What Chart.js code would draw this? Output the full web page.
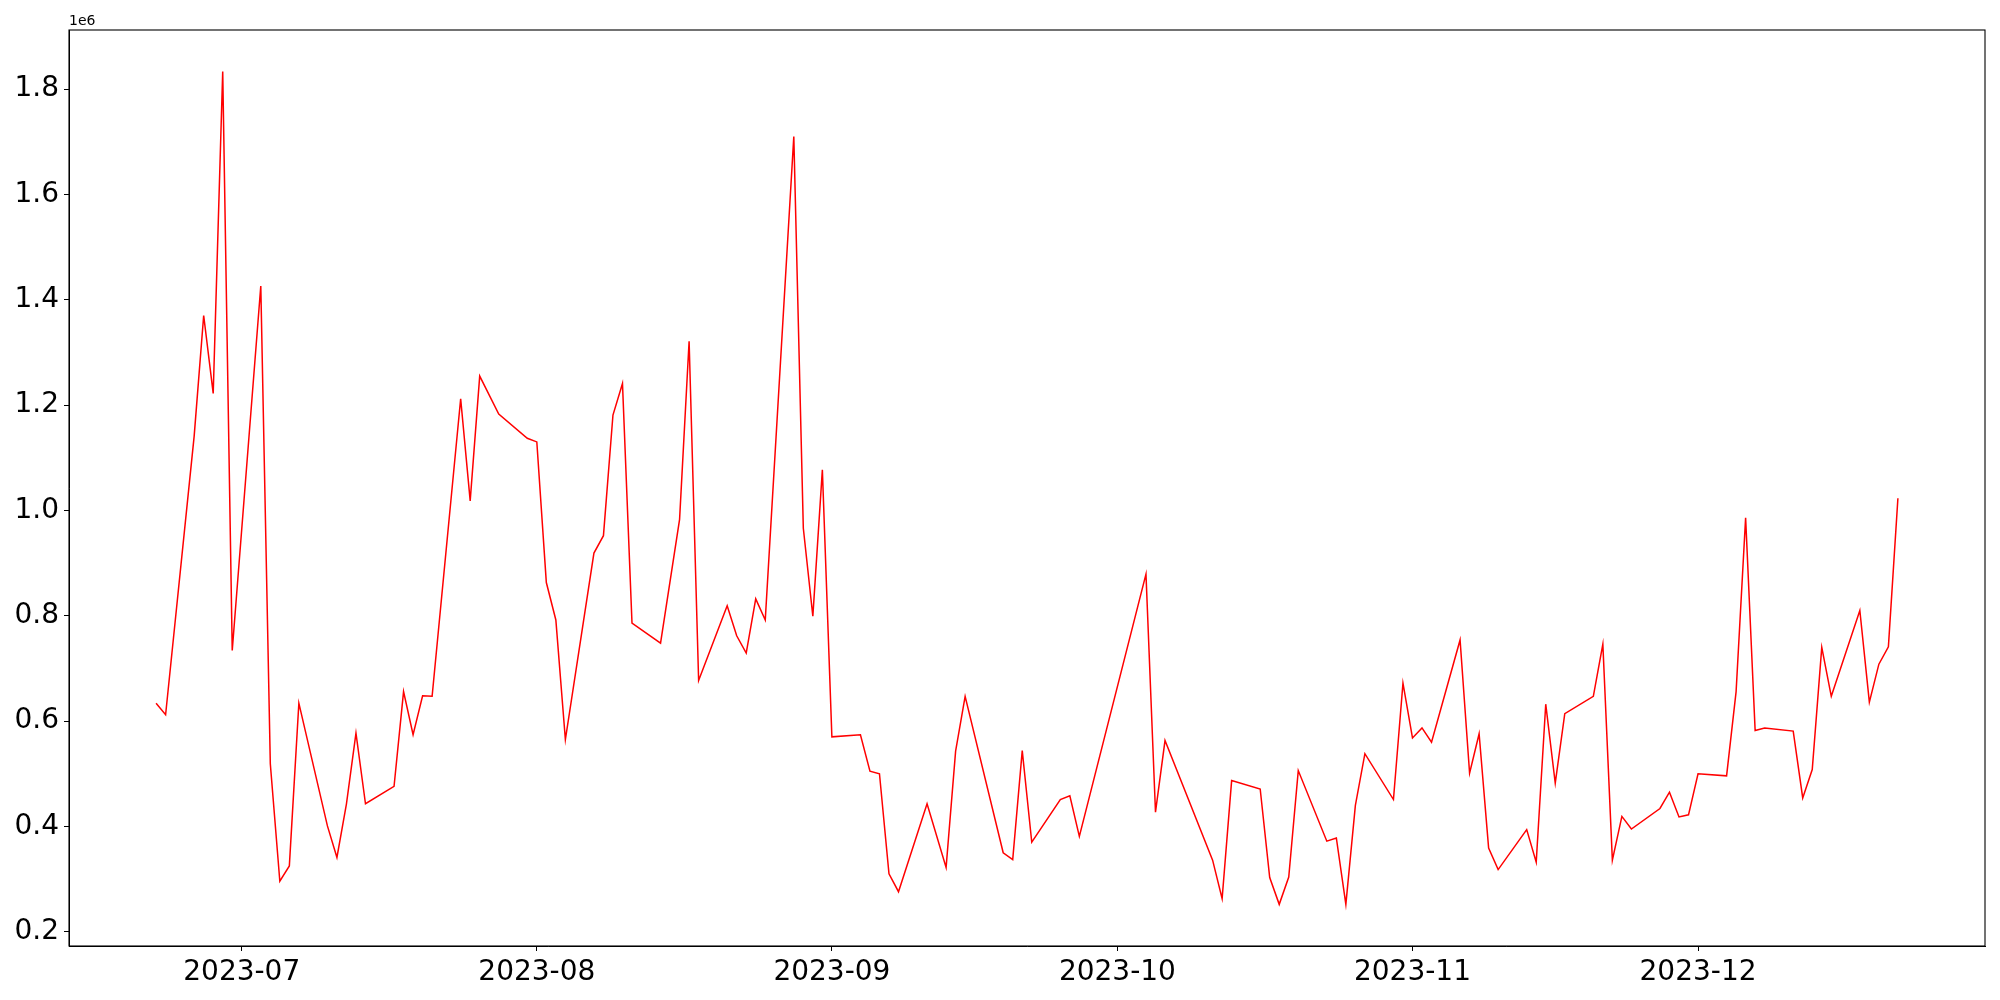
<!DOCTYPE html>
<html>
<head>
<meta charset="utf-8">
<script src="https://cdn.jsdelivr.net/npm/chart.js@4"></script>
<style>
  body { margin: 0; background: #fff; }
  #wrap { width: 2000px; height: 1000px; }
</style>
</head>
<body>
<div id="wrap"><canvas id="myChart" width="2000" height="1000"></canvas></div>
<script>
// fechas y valores (dias sueltos donde la linea sigue recta no se pueden ver)
var dates = [
  '2023-06-22','2023-06-23','2023-06-26','2023-06-27','2023-06-28','2023-06-29','2023-06-30',
  '2023-07-03','2023-07-04','2023-07-05','2023-07-06','2023-07-07',
  '2023-07-10','2023-07-11','2023-07-12','2023-07-13','2023-07-14',
  '2023-07-17','2023-07-18','2023-07-19','2023-07-20','2023-07-21',
  '2023-07-24','2023-07-25','2023-07-26','2023-07-28',
  '2023-07-31','2023-08-01','2023-08-02','2023-08-03','2023-08-04',
  '2023-08-07','2023-08-08','2023-08-09','2023-08-10','2023-08-11',
  '2023-08-14','2023-08-16','2023-08-17','2023-08-18',
  '2023-08-21','2023-08-22','2023-08-23','2023-08-24','2023-08-25',
  '2023-08-28','2023-08-29','2023-08-30','2023-08-31','2023-09-01',
  '2023-09-04','2023-09-05','2023-09-06','2023-09-07','2023-09-08',
  '2023-09-11','2023-09-13','2023-09-14','2023-09-15',
  '2023-09-19','2023-09-20','2023-09-21','2023-09-22',
  '2023-09-25','2023-09-26','2023-09-27',
  '2023-10-04','2023-10-05','2023-10-06',
  '2023-10-11','2023-10-12','2023-10-13',
  '2023-10-16','2023-10-17','2023-10-18','2023-10-19','2023-10-20',
  '2023-10-23','2023-10-24','2023-10-25','2023-10-26','2023-10-27',
  '2023-10-30','2023-10-31','2023-11-01','2023-11-02','2023-11-03',
  '2023-11-06','2023-11-07','2023-11-08','2023-11-09','2023-11-10',
  '2023-11-13','2023-11-14','2023-11-15','2023-11-16','2023-11-17',
  '2023-11-20','2023-11-21','2023-11-22','2023-11-23','2023-11-24',
  '2023-11-27','2023-11-28','2023-11-29','2023-11-30','2023-12-01',
  '2023-12-04','2023-12-05','2023-12-06','2023-12-07','2023-12-08',
  '2023-12-11','2023-12-12','2023-12-13','2023-12-14','2023-12-15',
  '2023-12-18','2023-12-19','2023-12-20','2023-12-21','2023-12-22'
];

var values = [
  634000, 612000, 1141000, 1370000, 1222000, 1833000, 734000,
  1426000, 519000, 296000, 325000, 634000,
  401000, 341000, 443000, 577000, 443000,
  476000, 656000, 574000, 648000, 647000,
  1212000, 1018000, 1255000, 1183000,
  1137000, 1130000, 863000, 792000, 565000,
  919000, 952000, 1181000, 1241000, 786000,
  748000, 983000, 1321000, 677000,
  819000, 762000, 729000, 832000, 792000,
  1710000, 966000, 799000, 1077000, 570000,
  574000, 505000, 500000, 310000, 276000,
  443000, 322000, 543000, 647000,
  350000, 337000, 544000, 370000,
  451000, 458000, 381000,
  879000, 427000, 563000,
  336000, 263000, 487000,
  471000, 303000, 252000, 304000, 506000,
  372000, 378000, 252000, 440000, 538000,
  451000, 672000, 568000, 587000, 560000,
  754000, 501000, 576000, 359000, 318000,
  394000, 332000, 632000, 482000, 614000,
  647000, 746000, 336000, 419000, 395000,
  434000, 465000, 418000, 422000, 500000,
  496000, 656000, 986000, 582000, 587000,
  581000, 454000, 508000, 740000, 647000,
  810000, 636000, 708000, 741000, 1023000
];

var monthTicks = ['2023-07-01','2023-08-01','2023-09-01','2023-10-01','2023-11-01','2023-12-01'];
var monthLabels = ['2023-07','2023-08','2023-09','2023-10','2023-11','2023-12'];
var yTicks = [200000, 400000, 600000, 800000, 1000000, 1200000, 1400000, 1600000, 1800000];

// dia como numero (sin adaptador de fechas)
function dayNum(s) {
  var p = s.split('-');
  return Date.UTC(+p[0], +p[1] - 1, +p[2]) / 86400000;
}

var points = dates.map(function(d, i) { return {x: dayNum(d), y: values[i]}; });

// margen del 5% como hace matplotlib
var xMin = dayNum(dates[0]), xMax = dayNum(dates[dates.length - 1]);
var xPad = (xMax - xMin) * 0.05;
var yMin = Math.min.apply(null, values), yMax = Math.max.apply(null, values);
var yPad = (yMax - yMin) * 0.05;

var frame = {
  id: 'frame',
  afterDraw: function(chart) {
    var ctx = chart.ctx, a = chart.chartArea;
    ctx.save();
    ctx.strokeStyle = '#000';
    ctx.lineWidth = 1.1;
    ctx.strokeRect(a.left, a.top, a.right - a.left, a.bottom - a.top);
    ctx.fillStyle = '#000';
    ctx.font = '14px "DejaVu Sans"';
    ctx.textBaseline = 'alphabetic';
    ctx.fillText('1e6', a.left, a.top - 5);
    ctx.restore();
  }
};

var tickFont = {family: 'DejaVu Sans', size: 28};

var ctx = document.getElementById('myChart').getContext('2d');
var chart = new Chart(ctx, {
  type: 'line',
  data: {
    datasets: [{
      data: points,
      borderColor: '#ff0000',
      borderWidth: 1.5,
      pointRadius: 0,
      tension: 0,
      fill: false
    }]
  },
  options: {
    responsive: false,
    animation: false,
    layout: {padding: {left: 0, top: 30, right: 15, bottom: 0}},
    plugins: {legend: {display: false}, tooltip: {enabled: false}},
    scales: {
      x: {
        type: 'linear',
        min: xMin - xPad,
        max: xMax + xPad,
        afterBuildTicks: function(scale) {
          scale.ticks = monthTicks.map(function(d) { return {value: dayNum(d)}; });
        },
        afterFit: function(scale) { scale.height = 54; },
        ticks: {
          autoSkip: false,
          maxRotation: 0,
          padding: 5,
          color: '#000',
          font: tickFont,
          callback: function(v, i) { return monthLabels[i]; }
        },
        grid: {drawOnChartArea: false, tickLength: 5, color: '#000'},
        border: {display: true, color: '#000', width: 1}
      },
      y: {
        type: 'linear',
        min: yMin - yPad,
        max: yMax + yPad,
        afterBuildTicks: function(scale) {
          scale.ticks = yTicks.map(function(v) { return {value: v}; });
        },
        afterFit: function(scale) { scale.width = 69; },
        ticks: {
          padding: 5,
          color: '#000',
          font: tickFont,
          callback: function(v) { return (v / 1e6).toFixed(1); }
        },
        grid: {drawOnChartArea: false, tickLength: 5, color: '#000'},
        border: {display: true, color: '#000', width: 1}
      }
    }
  },
  plugins: [frame]
});
</script>
</body>
</html>
